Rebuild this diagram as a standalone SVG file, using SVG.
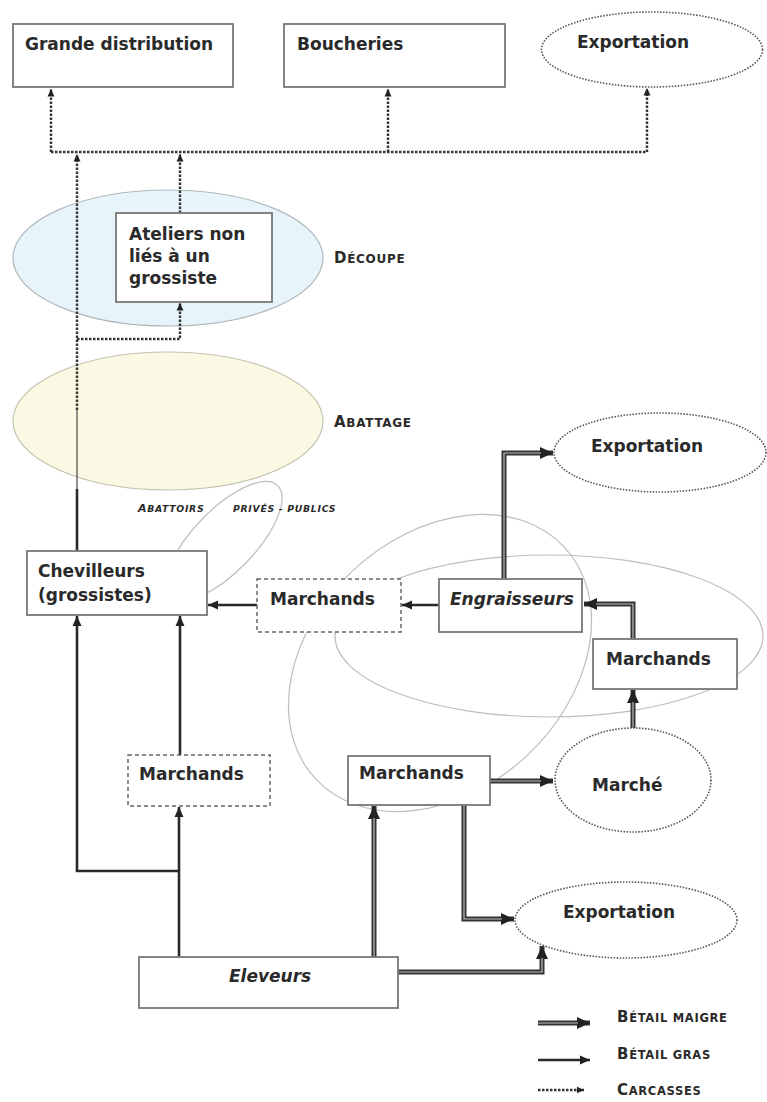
<svg xmlns="http://www.w3.org/2000/svg" width="767" height="1102" viewBox="0 0 767 1102">
<style>
text{font-family:"DejaVu Sans","Liberation Sans",sans-serif;fill:#2a2a2a}
.lb{font-weight:bold;font-size:17px}
.it{font-style:italic}
.sc{font-weight:bold;letter-spacing:0.7px}
.box{fill:#fff;stroke:#777;stroke-width:1.8}
.dbox{fill:#fff;stroke:#666;stroke-width:1.5;stroke-dasharray:4 3}
.dell{fill:#fff;stroke:#555;stroke-width:1.6;stroke-dasharray:1.5 1.5}
.zone{fill:none;stroke:#bdbdbd;stroke-width:1.2}
.carc{fill:none;stroke:#333;stroke-width:2.4;stroke-dasharray:2.5 1.5}
.gras{fill:none;stroke:#2a2a2a;stroke-width:2.6}
.maig{fill:none;stroke:#333;stroke-width:5}
.maigin{fill:none;stroke:#bdbdbd;stroke-width:1.2}
</style>
<defs>
<marker id="aBig" markerUnits="userSpaceOnUse" markerWidth="14" markerHeight="12" refX="13" refY="6" orient="auto"><path d="M0,0 L13,6 L0,12 z" fill="#222"/></marker>
<marker id="aMed" markerUnits="userSpaceOnUse" markerWidth="11" markerHeight="10" refX="10" refY="5" orient="auto"><path d="M0,0.5 L10,5 L0,9.5 z" fill="#222"/></marker>
<marker id="aSm" markerUnits="userSpaceOnUse" markerWidth="8" markerHeight="8" refX="7.5" refY="4" orient="auto"><path d="M0,0.5 L7.5,4 L0,7.5 z" fill="#222"/></marker>
</defs>
<rect width="767" height="1102" fill="#fff"/>

<g id="zones">
<ellipse id="decoupe-zone" cx="168" cy="258" rx="155" ry="68" fill="#e7f4f9" stroke="#b0b8bc" stroke-width="1.2"/>
<ellipse id="abattage-zone" cx="168" cy="421" rx="155" ry="69" fill="#fbf9e3" stroke="#c4c2b0" stroke-width="1.2"/>
<ellipse id="abattoirs-zone" class="zone" cx="224" cy="541" rx="77" ry="31" transform="rotate(-46 224 541)"/>
<ellipse id="zone-circle" class="zone" cx="440" cy="663" rx="170" ry="127" transform="rotate(-43 440 663)"/>
<ellipse id="zone-wide" class="zone" cx="549" cy="636" rx="214" ry="81"/>
</g>

<g id="connectors">
<!-- carcasses -->
<path class="carc" d="M51,152 H647"/>
<path class="carc" d="M51,152 V89" marker-end="url(#aSm)"/>
<path class="carc" d="M388,152 V89" marker-end="url(#aSm)"/>
<path class="carc" d="M647,152 V88" marker-end="url(#aSm)"/>
<path class="carc" d="M77,410 V154" marker-end="url(#aSm)"/>
<path class="carc" d="M180,213 V154" marker-end="url(#aSm)"/>
<path class="carc" d="M77,339 H180 V303" marker-end="url(#aSm)"/>
<!-- betail gras -->
<path d="M77,489 V410" fill="none" stroke="#555" stroke-width="1.3"/>
<path class="gras" d="M77,551 V489"/>
<path class="gras" d="M439,605 H402" marker-end="url(#aMed)"/>
<path class="gras" d="M257,605 H208" marker-end="url(#aMed)"/>
<path class="gras" d="M180,755 V616" marker-end="url(#aMed)"/>
<path class="gras" d="M179,957 V807" marker-end="url(#aMed)"/>
<path class="gras" d="M179,871 H77 V616" marker-end="url(#aMed)"/>
<!-- betail maigre -->
<path class="maig" d="M504,579 V453 H553" marker-end="url(#aBig)"/>
<path class="maigin" d="M504,579 V453 H541"/>
<path class="maig" d="M633,639 V604 H584" marker-end="url(#aBig)"/>
<path class="maigin" d="M633,639 V604 H596"/>
<path class="maig" d="M633,728 V690" marker-end="url(#aBig)"/>
<path class="maigin" d="M633,728 V702"/>
<path class="maig" d="M490,781 H553" marker-end="url(#aBig)"/>
<path class="maigin" d="M490,781 H541"/>
<path class="maig" d="M374,957 V806" marker-end="url(#aBig)"/>
<path class="maigin" d="M374,957 V818"/>
<path class="maig" d="M464,805 V919 H514" marker-end="url(#aBig)"/>
<path class="maigin" d="M464,805 V919 H502"/>
<path class="maig" d="M398,972 H542 V946" marker-end="url(#aBig)"/>
<path class="maigin" d="M398,972 H542 V958"/>
<!-- legend arrows -->
<path class="maig" d="M538,1023 H590" marker-end="url(#aBig)"/>
<path class="maigin" d="M538,1023 H578"/>
<path class="gras" d="M538,1060 H590" marker-end="url(#aMed)"/>
<path class="carc" d="M538,1090 H584" marker-end="url(#aSm)"/>
</g>

<g id="grande-distribution"><rect class="box" x="13" y="24" width="220" height="63"/><text class="lb" x="25" y="50">Grande distribution</text></g>
<g id="boucheries"><rect class="box" x="284" y="24" width="221" height="63"/><text class="lb" x="297" y="50">Boucheries</text></g>
<g id="exportation-top"><ellipse class="dell" cx="652" cy="49.5" rx="110.5" ry="37.5"/><text class="lb" x="633" y="48" text-anchor="middle">Exportation</text></g>

<g id="ateliers"><rect class="box" x="116" y="213" width="156" height="89"/>
<text class="lb" x="129" y="240">Ateliers non</text>
<text class="lb" x="129" y="262">liés à un</text>
<text class="lb" x="129" y="284">grossiste</text></g>
<g id="label-decoupe"><text class="sc" x="334" y="263"><tspan font-size="15">D</tspan><tspan font-size="12">ÉCOUPE</tspan></text></g>
<g id="label-abattage"><text class="sc" x="334" y="427" letter-spacing="0.9"><tspan font-size="15">A</tspan><tspan font-size="12">BATTAGE</tspan></text></g>
<g id="label-abattoirs"><text class="sc it" x="138" y="512" letter-spacing="1"><tspan font-size="11">A</tspan><tspan font-size="9.3">BATTOIRS</tspan><tspan x="233" font-size="9.3">PRIVÉS - PUBLICS</tspan></text></g>

<g id="chevilleurs"><rect class="box" x="27" y="551" width="180" height="64"/>
<text class="lb" x="38" y="577">Chevilleurs</text>
<text class="lb" x="38" y="601">(grossistes)</text></g>
<g id="marchands-1"><rect class="dbox" x="257" y="579" width="144" height="53"/><text class="lb" x="270" y="605">Marchands</text></g>
<g id="engraisseurs"><rect class="box" x="439" y="579" width="143" height="53"/><text class="lb it" x="450" y="605" font-size="16.5">Engraisseurs</text></g>
<g id="exportation-mid"><ellipse class="dell" cx="660" cy="452.5" rx="106" ry="39.5"/><text class="lb" x="647" y="452" text-anchor="middle">Exportation</text></g>
<g id="marchands-2"><rect class="box" x="593" y="639" width="144" height="50"/><text class="lb" x="606" y="665">Marchands</text></g>
<g id="marche"><ellipse class="dell" cx="633" cy="780" rx="78" ry="52"/><text class="lb" x="592" y="791">Marché</text></g>
<g id="marchands-3"><rect class="dbox" x="128" y="755" width="142" height="51"/><text class="lb" x="139" y="780">Marchands</text></g>
<g id="marchands-4"><rect class="box" x="348" y="756" width="142" height="49"/><text class="lb" x="359" y="779">Marchands</text></g>
<g id="exportation-bottom"><ellipse class="dell" cx="626" cy="920" rx="111" ry="38"/><text class="lb" x="619" y="918" text-anchor="middle">Exportation</text></g>
<g id="eleveurs"><rect class="box" x="139" y="957" width="259" height="51"/><text class="lb it" x="229" y="982" font-size="16.5">Eleveurs</text></g>

<g id="legend">
<text class="sc" x="617" y="1022" letter-spacing="0.9"><tspan font-size="15">B</tspan><tspan font-size="11.5">ÉTAIL MAIGRE</tspan></text>
<text class="sc" x="617" y="1059" letter-spacing="0.9"><tspan font-size="15">B</tspan><tspan font-size="11.5">ÉTAIL GRAS</tspan></text>
<text class="sc" x="617" y="1095" letter-spacing="0.9"><tspan font-size="15">C</tspan><tspan font-size="11.5">ARCASSES</tspan></text>
</g>
</svg>
